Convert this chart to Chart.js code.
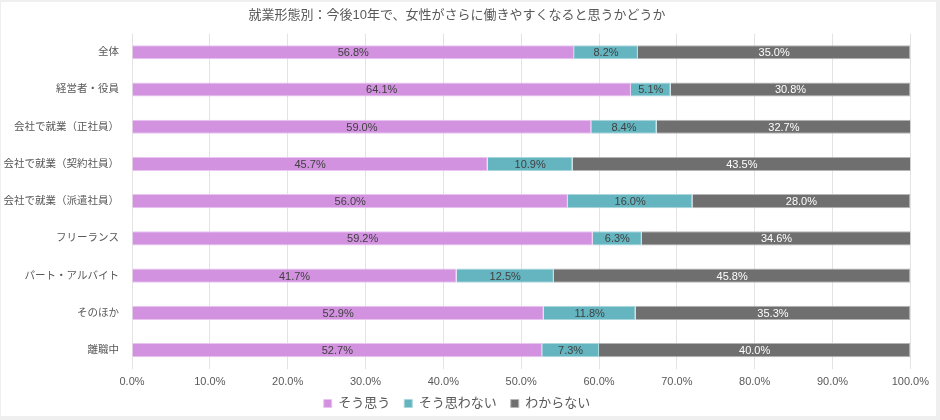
<!DOCTYPE html>
<html>
<head>
<meta charset="utf-8">
<script src="https://cdn.jsdelivr.net/npm/chart.js@4.4.1/dist/chart.umd.min.js"></script>
<style>
  html, body { margin: 0; padding: 0; background: #efefef; }
  #wrap { position: absolute; left: 1px; top: 2px; width: 935px; height: 414px; background: #fff; }
</style>
</head>
<body>
<div id="wrap"><canvas id="chart"></canvas></div>
<script>
var categories = ['全体', '経営者・役員', '会社で就業（正社員）', '会社で就業（契約社員）', '会社で就業（派遣社員）', 'フリーランス', 'パート・アルバイト', 'そのほか', '離職中'];
var agree = [56.8, 64.1, 59.0, 45.7, 56.0, 59.2, 41.7, 52.9, 52.7];
var disagree = [8.2, 5.1, 8.4, 10.9, 16.0, 6.3, 12.5, 11.8, 7.3];
var unknown = [35.0, 30.8, 32.7, 43.5, 28.0, 34.6, 45.8, 35.3, 40.0];
var seriesNames = ['そう思う', 'そう思わない', 'わからない'];

var FONT = '"Liberation Sans", "Noto Sans CJK JP", sans-serif';

// draws the value in the middle of each bar segment
var barLabels = {
  id: 'barLabels',
  afterDatasetsDraw: function(chart) {
    var ctx = chart.ctx;
    ctx.save();
    ctx.font = '11px ' + FONT;
    ctx.textAlign = 'center';
    ctx.textBaseline = 'middle';
    chart.data.datasets.forEach(function(ds, i) {
      var meta = chart.getDatasetMeta(i);
      ctx.fillStyle = i === 2 ? '#ffffff' : '#404040';
      meta.data.forEach(function(bar, j) {
        var p = bar.getProps(['x', 'y', 'base'], true);
        ctx.fillText(ds.data[j].toFixed(1) + '%', (p.x + p.base) / 2, p.y + 1);
      });
    });
    ctx.restore();
  }
};

new Chart(document.getElementById('chart'), {
  type: 'bar',
  data: {
    labels: categories,
    datasets: [
      { label: seriesNames[0], data: agree, backgroundColor: '#d292e0', borderColor: '#e8c4ef', borderWidth: 1 },
      { label: seriesNames[1], data: disagree, backgroundColor: '#64b5c0', borderColor: '#a9d7dd', borderWidth: 1 },
      { label: seriesNames[2], data: unknown, backgroundColor: '#6f6f6f', borderColor: '#b5b5b5', borderWidth: 1 }
    ]
  },
  options: {
    indexAxis: 'y',
    responsive: true,
    maintainAspectRatio: false,
    animation: false,
    layout: { padding: { left: 0, right: 23, top: 0, bottom: -4 } },
    datasets: { bar: { categoryPercentage: 1, barPercentage: 0.38 } },
    scales: {
      x: {
        stacked: true,
        min: 0,
        max: 100,
        ticks: {
          stepSize: 10,
          color: '#595959',
          font: { family: FONT, size: 11 },
          padding: 7,
          callback: function(v) { return v.toFixed(1) + '%'; }
        },
        grid: { color: '#e3e3e3', drawTicks: false },
        border: { display: false }
      },
      y: {
        stacked: true,
        ticks: { color: '#595959', font: { family: FONT, size: 10.5 }, padding: 13 },
        grid: { display: false, drawTicks: false },
        border: { display: false },
        afterFit: function(scale) { scale.width = 131; }
      }
    },
    plugins: {
      title: {
        display: true,
        text: '就業形態別：今後10年で、女性がさらに働きやすくなると思うかどうか',
        color: '#595959',
        font: { family: FONT, size: 13, weight: 'normal' },
        padding: { top: 6, bottom: 10 }
      },
      legend: {
        position: 'bottom',
        labels: {
          color: '#595959',
          font: { family: FONT, size: 13 },
          boxWidth: 8,
          boxHeight: 8,
          padding: 1,
          // padding also sets the legend height, so the gap between items comes from a trailing space
          generateLabels: function(chart) {
            var items = Chart.defaults.plugins.legend.labels.generateLabels(chart);
            items.forEach(function(item, i) {
              if (i < items.length - 1) item.text += '\u3000';
            });
            return items;
          }
        }
      },
      tooltip: { enabled: false }
    }
  },
  plugins: [barLabels]
});
</script>
</body>
</html>
